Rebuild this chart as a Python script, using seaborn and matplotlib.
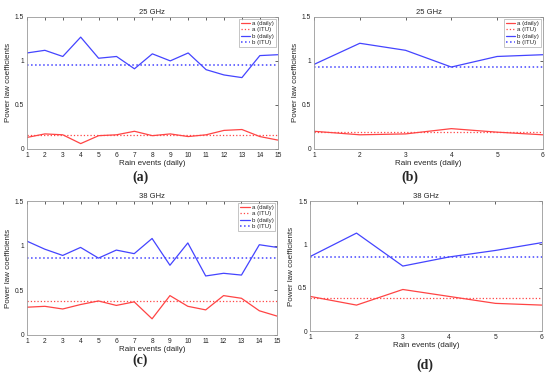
import matplotlib
matplotlib.use("Agg")
import matplotlib.pyplot as plt
import pandas as pd
import seaborn as sns

# 25 GHz, 15 rain events
a25_15 = [0.13, 0.17, 0.16, 0.06, 0.15, 0.16, 0.20, 0.15, 0.17, 0.14, 0.16, 0.21, 0.22, 0.14, 0.10]
b25_15 = [1.09, 1.12, 1.05, 1.27, 1.03, 1.05, 0.91, 1.08, 1.00, 1.09, 0.90, 0.84, 0.81, 1.06, 1.07]
a25_itu_15 = 0.155
b25_itu_15 = 0.95

# 25 GHz, 6 rain events
a25_6 = [0.20, 0.16, 0.17, 0.23, 0.19, 0.16]
b25_6 = [0.96, 1.20, 1.12, 0.93, 1.05, 1.07]
a25_itu_6 = 0.19
b25_itu_6 = 0.93

# 38 GHz, 15 rain events
a38_15 = [0.31, 0.32, 0.29, 0.34, 0.38, 0.33, 0.37, 0.18, 0.44, 0.32, 0.28, 0.44, 0.41, 0.27, 0.21]
b38_15 = [1.05, 0.96, 0.89, 0.98, 0.86, 0.95, 0.91, 1.08, 0.78, 1.03, 0.66, 0.69, 0.67, 1.01, 0.98]
a38_itu_15 = 0.385
b38_itu_15 = 0.86

# 38 GHz, 6 rain events
a38_6 = [0.40, 0.30, 0.48, 0.40, 0.32, 0.30]
b38_6 = [0.86, 1.13, 0.75, 0.855, 0.93, 1.02]
a38_itu_6 = 0.38
b38_itu_6 = 0.85

panels = [
  ("25 GHz", a25_15, b25_15, a25_itu_15, b25_itu_15, "(a)", True),
  ("25 GHz", a25_6, b25_6, a25_itu_6, b25_itu_6, "(b)", True),
  ("38 GHz", a38_15, b38_15, a38_itu_15, b38_itu_15, "(c)", True),
  ("38 GHz", a38_6, b38_6, a38_itu_6, b38_itu_6, "(d)", False),
]

positions = [
  [0.049, 0.603, 0.456, 0.352],
  [0.571, 0.603, 0.416, 0.352],
  [0.049, 0.107, 0.455, 0.357],
  [0.564, 0.117, 0.421, 0.347],
]
letter_pos = [(0.255, 0.528), (0.745, 0.528), (0.255, 0.038), (0.772, 0.026)]

RED = "#ff4444"
BLUE = "#4444ff"

sns.set_style("white")
plt.rcParams["font.family"] = ["Liberation Sans", "DejaVu Sans"]

fig = plt.figure(figsize=(5.5, 3.75), dpi=100)

for (title, a, b, a_itu, b_itu, letter, show_leg), pos, lpos in zip(panels, positions, letter_pos):
  ax = fig.add_axes(pos)
  df = pd.DataFrame({"event": range(1, len(a) + 1), "a": a, "b": b})
  sns.lineplot(data=df, x="event", y="a", ax=ax, color=RED, lw=0.9, label="a (daily)")
  ax.axhline(a_itu, color=RED, lw=0.9, ls=":", label="a (ITU)")
  sns.lineplot(data=df, x="event", y="b", ax=ax, color=BLUE, lw=0.9, label="b (daily)")
  ax.axhline(b_itu, color=BLUE, lw=1.1, ls=":", label="b (ITU)")

  ax.set_xlim(1, len(a))
  ax.set_ylim(0, 1.5)
  ax.set_xticks(range(1, len(a) + 1))
  ax.set_yticks([0, 0.5, 1, 1.5])
  ax.set_yticklabels(["0", "0.5", "1", "1.5"])
  ax.tick_params(direction="in", length=2, width=0.5, labelsize=4.8, pad=2, colors="#222222",
                 top=True, right=True)
  for s in ax.spines.values():
    s.set_color("#999999")
    s.set_linewidth(0.6)
  ax.set_title(title, fontsize=5.5, pad=2)
  ax.set_xlabel("Rain events (daily)", fontsize=5.8, labelpad=1)
  ax.set_ylabel("Power law coefficients", fontsize=5.8, labelpad=2)
  if show_leg:
    leg = ax.legend(loc="upper right", fontsize=4.4, frameon=True, fancybox=False,
                    handlelength=1.6, borderpad=0.3, labelspacing=0.2, handletextpad=0.3,
                    borderaxespad=0.3)
    leg.get_frame().set_edgecolor("#999999")
    leg.get_frame().set_linewidth(0.5)
  else:
    ax.get_legend().remove()
  fig.text(lpos[0], lpos[1], letter, ha="center", va="center", fontsize=10,
           family="Liberation Serif", weight="bold")

fig.savefig("out.png", dpi=100)
plt.close(fig)
